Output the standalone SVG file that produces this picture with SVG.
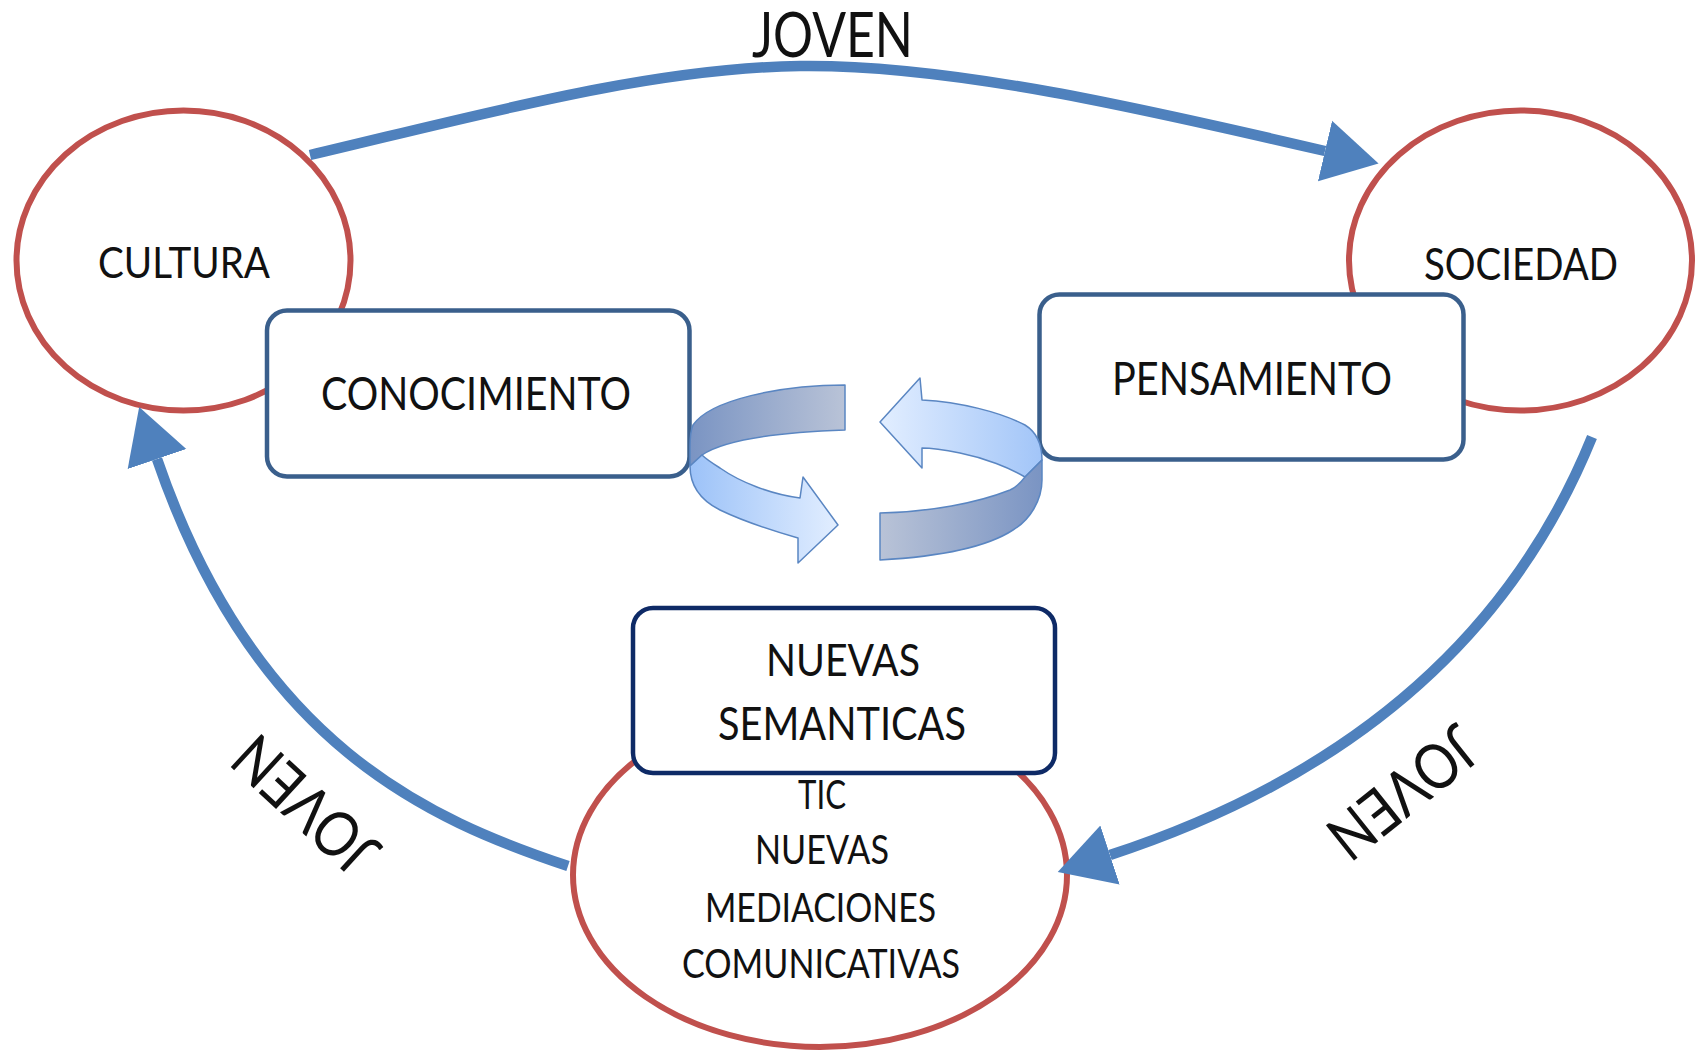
<svg xmlns="http://www.w3.org/2000/svg" width="1697" height="1052" viewBox="0 0 1697 1052">
<style>
  .ell { fill:#FFFFFF; stroke:#C0504D; stroke-width:6; }
  .box { fill:#FFFFFF; stroke:#3A5F8C; stroke-width:4.5; }
  .box-dark { fill:#FFFFFF; stroke:#0E2A66; stroke-width:4.5; }
  .t { font-family:Lato, "Liberation Sans", sans-serif; fill:#111111; text-anchor:middle; }
  .conn { fill:none; stroke:#4F81BD; stroke-width:10.5; marker-end:url(#ah); }
  .rib { stroke:#5A86C2; stroke-width:1.5; stroke-linejoin:round; }
</style>
<defs>
  <marker id="ah" markerUnits="userSpaceOnUse" viewBox="0 -32 56 64" markerWidth="56" markerHeight="64" refX="0" refY="0" orient="auto">
    <path d="M0,-31 L55,0 L0,31 Z" fill="#4F81BD"/>
  </marker>
  <linearGradient id="gLB" gradientUnits="userSpaceOnUse" x1="690" y1="0" x2="845" y2="0">
    <stop offset="0" stop-color="#7A94C3"/><stop offset="1" stop-color="#B9C3D7"/>
  </linearGradient>
  <linearGradient id="gLF" gradientUnits="userSpaceOnUse" x1="690" y1="0" x2="838" y2="0">
    <stop offset="0" stop-color="#9CC2F8"/><stop offset="1" stop-color="#E2EEFF"/>
  </linearGradient>
  <linearGradient id="gRF" gradientUnits="userSpaceOnUse" x1="880" y1="0" x2="1042" y2="0">
    <stop offset="0" stop-color="#E2EEFF"/><stop offset="1" stop-color="#A2C5F8"/>
  </linearGradient>
  <linearGradient id="gRB" gradientUnits="userSpaceOnUse" x1="880" y1="0" x2="1042" y2="0">
    <stop offset="0" stop-color="#B9C3D7"/><stop offset="1" stop-color="#7A94C3"/>
  </linearGradient>
</defs>
<rect width="1697" height="1052" fill="#FFFFFF"/>

<g id="cultura">
  <ellipse class="ell" cx="183.5" cy="260.5" rx="167" ry="150"/>
  <text class="t" x="184" y="278" font-size="43" textLength="172" lengthAdjust="spacingAndGlyphs">CULTURA</text>
</g>
<g id="sociedad">
  <ellipse class="ell" cx="1520.5" cy="260.5" rx="171.5" ry="150"/>
  <text class="t" x="1521" y="280" font-size="44" textLength="194" lengthAdjust="spacingAndGlyphs">SOCIEDAD</text>
</g>
<g id="tic">
  <ellipse class="ell" cx="820" cy="875" rx="247" ry="172"/>
  <text class="t" x="822" y="809" font-size="40" textLength="48" lengthAdjust="spacingAndGlyphs">TIC</text>
  <text class="t" x="822" y="864" font-size="40" textLength="134" lengthAdjust="spacingAndGlyphs">NUEVAS</text>
  <text class="t" x="820.5" y="922" font-size="40" textLength="231" lengthAdjust="spacingAndGlyphs">MEDIACIONES</text>
  <text class="t" x="821" y="978" font-size="40" textLength="278" lengthAdjust="spacingAndGlyphs">COMUNICATIVAS</text>
</g>

<g id="connectors">
  <path class="conn" d="M310,155 C480,115 650,68 800,66 C950,64 1145,109 1325,151"/>
  <path class="conn" d="M568,866 C430,820 255,745 157,459"/>
  <path class="conn" d="M1592,437 C1530,590 1400,760 1110,855"/>
  <text class="t" x="832.5" y="57" font-size="61" textLength="161" lengthAdjust="spacingAndGlyphs">JOVEN</text>
  <text class="t" transform="translate(306,805) rotate(222.7)" x="0" y="22" font-size="63" textLength="172" lengthAdjust="spacingAndGlyphs">JOVEN</text>
  <text class="t" transform="translate(1403,792) rotate(141.5)" x="0" y="22" font-size="63" textLength="172" lengthAdjust="spacingAndGlyphs">JOVEN</text>
</g>

<g id="conocimiento">
  <rect class="box" x="267" y="310.5" width="422.5" height="166" rx="20" ry="20"/>
  <text class="t" x="476" y="410" font-size="46" textLength="310" lengthAdjust="spacingAndGlyphs">CONOCIMIENTO</text>
</g>
<g id="pensamiento">
  <rect class="box" x="1039.5" y="294.5" width="424" height="165" rx="20" ry="20" stroke-width="5.5"/>
  <text class="t" x="1252" y="395" font-size="46" textLength="280" lengthAdjust="spacingAndGlyphs">PENSAMIENTO</text>
</g>
<g id="nuevas-semanticas">
  <rect class="box-dark" x="633" y="608" width="422" height="165" rx="20" ry="20"/>
  <text class="t" x="843" y="676" font-size="45" textLength="154" lengthAdjust="spacingAndGlyphs">NUEVAS</text>
  <text class="t" x="842" y="740" font-size="46" textLength="248" lengthAdjust="spacingAndGlyphs">SEMANTICAS</text>
</g>

<g id="ciclo">
  <path class="rib" fill="url(#gLB)" d="M845,385 C780,385 710,400 693,425 C690,432 690,440 690,447 L690,466 L702,455 C720,443 760,433 845,430 Z"/>
  <path class="rib" fill="url(#gLF)" d="M690,466 C690,485 700,500 720,510 C745,522 770,530 798,538 L798,563 L838,525 L803,477 L800,498 C770,494 740,482 720,468 C712,463 706,459 702,455 Z"/>
  <path class="rib" fill="url(#gRF)" d="M880,422 L920,378 L922,400 C960,402 1000,412 1025,425 C1038,433 1042,445 1042,460 L1025,477 C1010,468 985,458 960,453 C945,450 930,448 922,448 L922,468 Z"/>
  <path class="rib" fill="url(#gRB)" d="M1042,460 L1042,480 C1042,500 1030,520 1013,530 C990,545 950,556 880,560 L880,513 C930,512 977,503 1010,490 C1017,487 1022,481 1025,477 Z"/>
</g>
</svg>
